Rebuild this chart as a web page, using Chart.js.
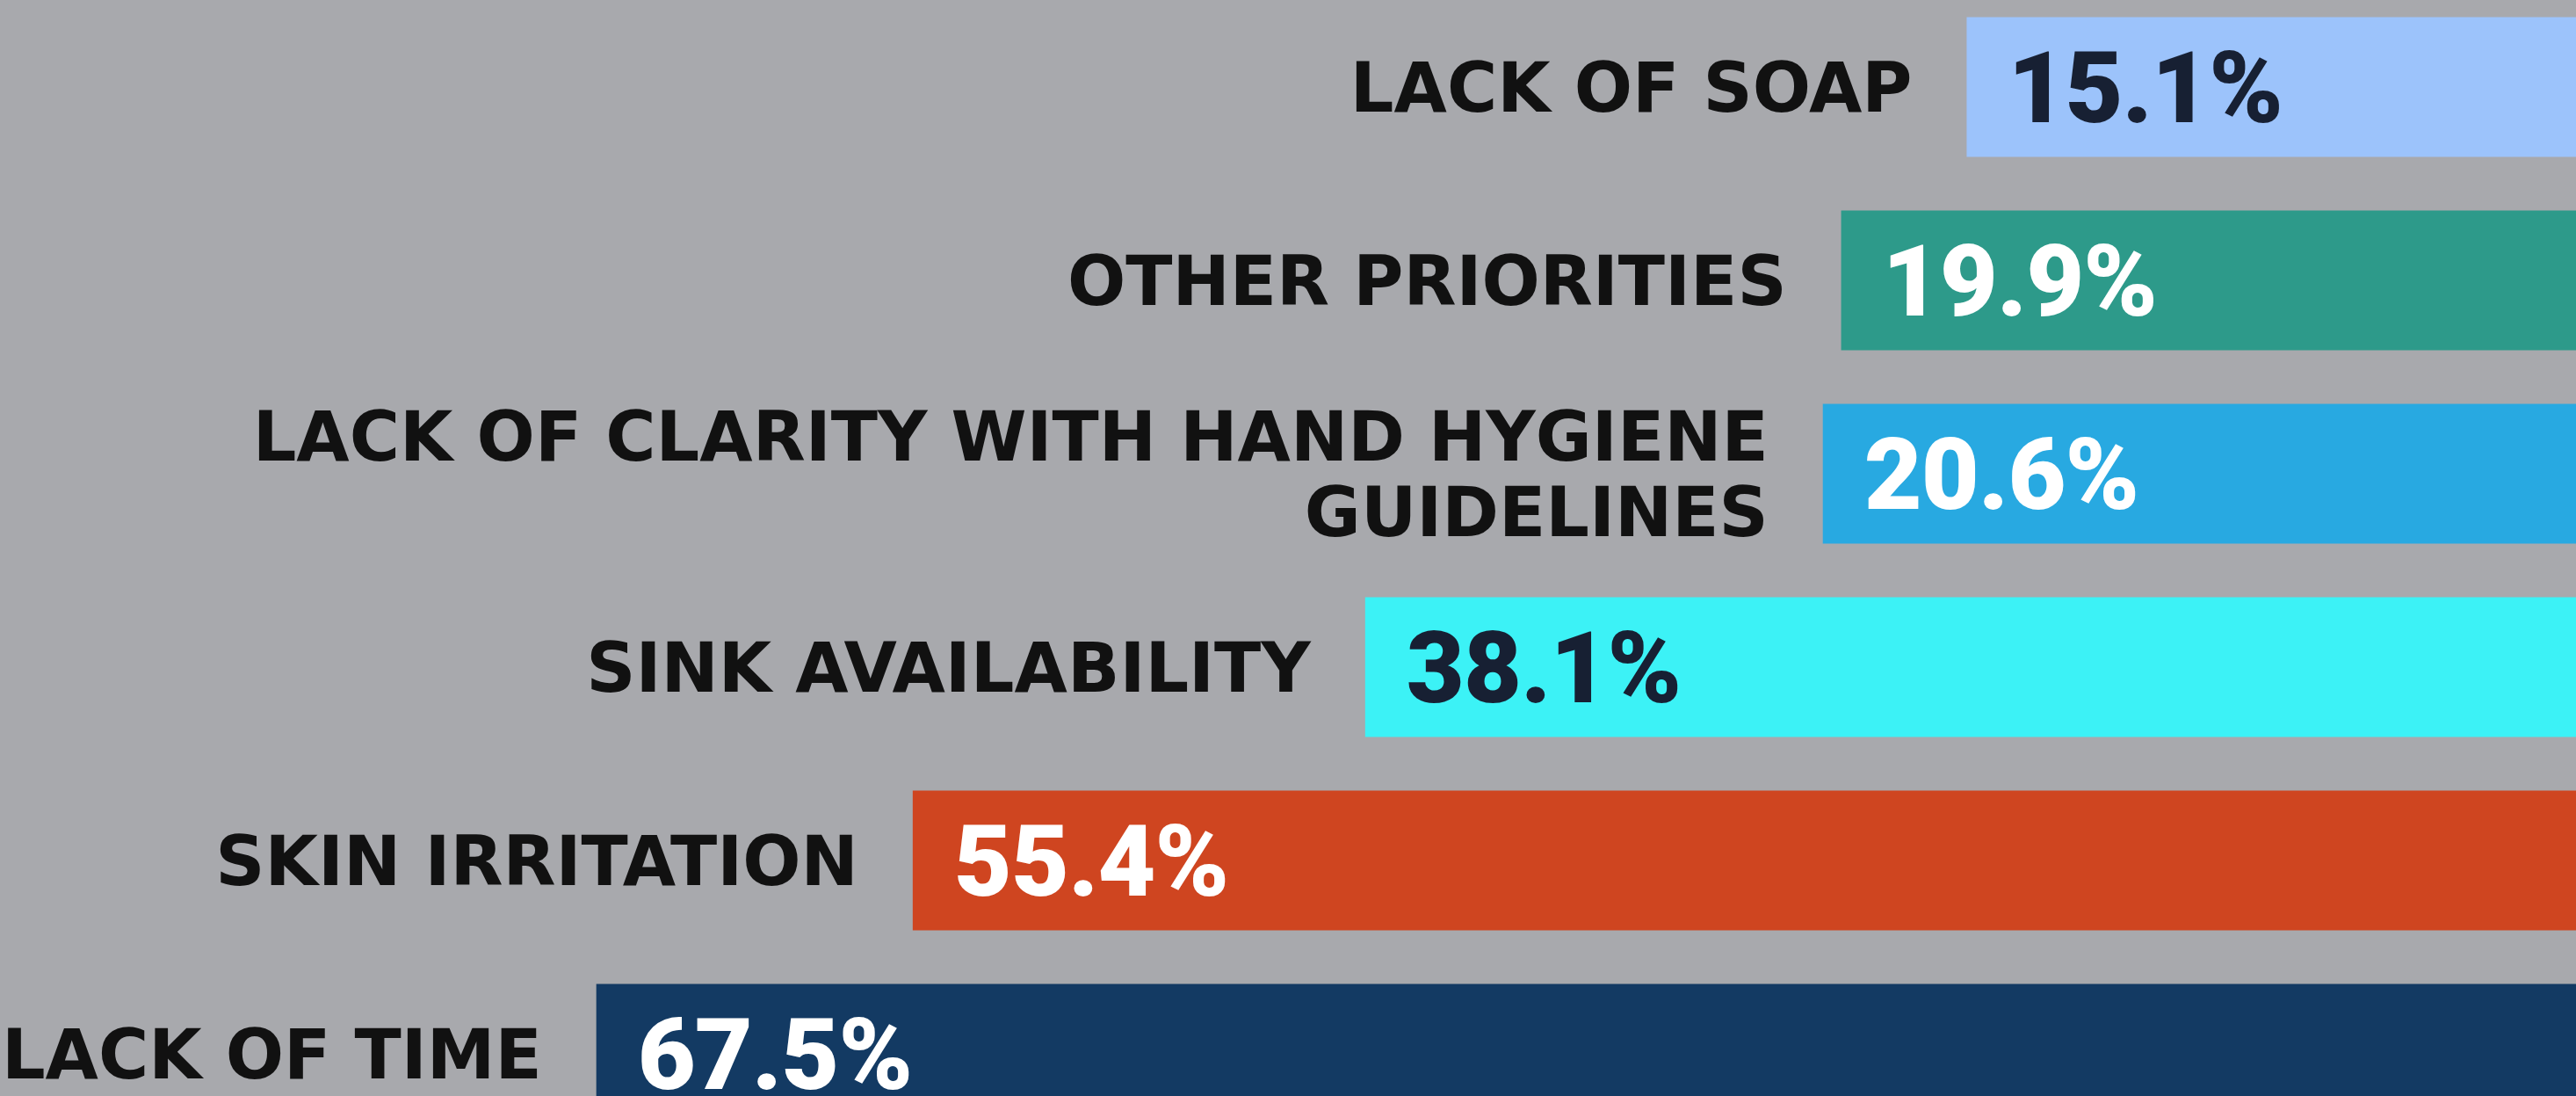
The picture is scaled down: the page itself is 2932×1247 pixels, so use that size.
<!DOCTYPE html>
<html>
<head>
<meta charset="utf-8">
<title>Hand hygiene barriers</title>
<script src="https://cdn.jsdelivr.net/npm/chart.js@4"></script>
<style>
    html, body { margin: 0; padding: 0; background: #a8a9ad; overflow: hidden; }
    #frame { position: relative; width: 2932px; height: 1247px; overflow: hidden; }
    #chartBox { position: absolute; left: 0; top: -11px; width: 2932px; height: 1320px; }
</style>
</head>
<body>
<div id="frame">
    <div id="chartBox">
        <canvas id="barriersChart" width="2932" height="1320"></canvas>
    </div>
</div>
<script>
// Chart data
const categories = [
    'LACK OF SOAP',
    'OTHER PRIORITIES',
    ['LACK OF CLARITY WITH HAND HYGIENE', 'GUIDELINES'],
    'SINK AVAILABILITY',
    'SKIN IRRITATION',
    'LACK OF TIME'
];
const values = [15.1, 19.9, 20.6, 38.1, 55.4, 67.5];
const barColors = ['#9cc3fb', '#2d9a8a', '#28a9e1', '#3cf2f6', '#cf4520', '#133a63'];
const valueColors = ['#172033', '#ffffff', '#ffffff', '#172033', '#ffffff', '#ffffff'];

// axis runs right to left, bars grow out of the right edge
const axisStart = -8.2;
const axisEnd = 90.3;

const LABEL_SIZE = 78;
const LABEL_FONT = '"DejaVu Sans"';
const VALUE_SIZE = 114;
const VALUE_FONT = 'Roboto';

// Draws category names left of each bar and the value inside it
const barLabelsPlugin = {
    id: 'barLabels',
    afterDatasetsDraw(chart) {
        const ctx = chart.ctx;
        const meta = chart.getDatasetMeta(0);
        meta.data.forEach((bar, i) => {
            const left = Math.min(bar.x, bar.base);
            ctx.save();

            // category label
            ctx.font = `bold ${LABEL_SIZE}px ${LABEL_FONT}`;
            ctx.fillStyle = '#111111';
            ctx.textAlign = 'right';
            ctx.textBaseline = 'alphabetic';
            const lines = [].concat(categories[i]);
            lines.forEach((line, j) => {
                const offset = (j - (lines.length - 1) / 2) * 86;
                ctx.fillText(line, left - 62, bar.y + offset + LABEL_SIZE * 0.365);
            });

            // value
            ctx.font = `900 ${VALUE_SIZE}px ${VALUE_FONT}`;
            ctx.letterSpacing = '-1px';
            ctx.fillStyle = valueColors[i];
            ctx.textAlign = 'left';
            ctx.fillText(values[i].toFixed(1) + '%', left + 47, bar.y + VALUE_SIZE * 0.355);

            ctx.restore();
        });
    }
};

const chartCanvas = document.getElementById('barriersChart');
new Chart(chartCanvas.getContext('2d'), {
    type: 'bar',
    data: {
        labels: categories,
        datasets: [{
            data: values,
            base: axisStart,
            backgroundColor: barColors,
            borderWidth: 0,
            barPercentage: 0.723,
            categoryPercentage: 1
        }]
    },
    options: {
        indexAxis: 'y',
        responsive: false,
        animation: false,
        devicePixelRatio: 1,
        layout: { padding: 0 },
        plugins: {
            legend: { display: false },
            tooltip: { enabled: false }
        },
        scales: {
            x: {
                display: false,
                reverse: true,
                min: axisStart,
                max: axisEnd
            },
            y: {
                display: false
            }
        }
    },
    plugins: [barLabelsPlugin]
});
</script>
</body>
</html>
